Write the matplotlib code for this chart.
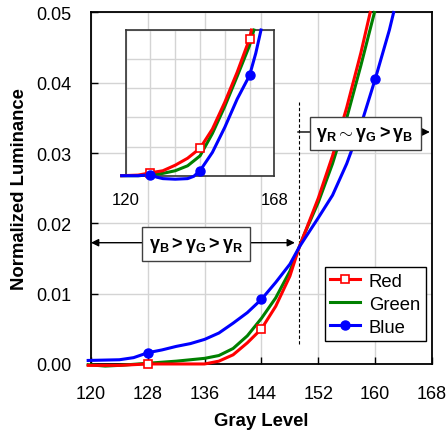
import matplotlib
matplotlib.use("Agg")
import matplotlib.pyplot as plt
from matplotlib.lines import Line2D

plt.rcParams['font.family'] = ['Liberation Sans', 'DejaVu Sans']
plt.rcParams['mathtext.fontset'] = 'custom'
plt.rcParams['mathtext.rm'] = 'Liberation Sans'
plt.rcParams['mathtext.bf'] = 'Liberation Sans:bold'
plt.rcParams['mathtext.it'] = 'Liberation Sans:italic'

# ---- main chart data (gray level vs normalized luminance) ----
red_x = [119.6, 124, 128, 132, 136, 138, 140, 142, 144, 146, 148, 149.3, 150, 152, 154, 156, 158, 159.3]
red_y = [-0.0002, -0.0002, 0.0000, 0.0000, 0.0000, 0.0004, 0.0013, 0.0030, 0.0050, 0.0082, 0.0125, 0.0166,
         0.0184, 0.0236, 0.0296, 0.0365, 0.0443, 0.0500]
green_x = [119.6, 122, 124, 128, 132, 136, 138, 140, 142, 144, 146, 148, 149.3, 150, 152, 154, 156, 158, 159.9]
green_y = [-0.0001, -0.0003, -0.0002, 0.0001, 0.0004, 0.0008, 0.0012, 0.0022, 0.0040, 0.0065, 0.0094, 0.0132,
           0.0166, 0.0184, 0.0230, 0.0285, 0.0350, 0.0425, 0.0500]
blue_x = [119.6, 124, 126, 128, 130, 132, 134, 136, 138, 140, 142, 144, 146, 148, 149.3, 150, 152, 154, 156,
          158, 160, 162, 162.6]
blue_y = [0.0005, 0.0006, 0.0009, 0.0016, 0.0020, 0.0025, 0.0029, 0.0035, 0.0044, 0.0058, 0.0073, 0.0092,
          0.0116, 0.0142, 0.0166, 0.0177, 0.0208, 0.0240, 0.0285, 0.0340, 0.0405, 0.0475, 0.0500]
red_mx = [128, 144]
red_my = [0.0000, 0.0050]
blue_mx = [128, 144, 160]
blue_my = [0.0016, 0.0092, 0.0405]

# ---- inset data (same gray range, expanded luminance scale, arbitrary units) ----
ired_x = [118.7, 124, 128, 132, 136, 140, 144, 148, 152, 156, 160, 160.6]
ired_y = [0.0, 0.02, 0.10, 0.17, 0.36, 0.60, 0.94, 1.60, 2.52, 3.55, 4.70, 5.0]
igreen_x = [118.7, 124, 128, 132, 136, 140, 144, 148, 152, 156, 160, 161.4]
igreen_y = [0.0, 0.0, 0.03, 0.08, 0.17, 0.34, 0.68, 1.45, 2.38, 3.41, 4.47, 5.0]
iblue_x = [118.7, 124, 128, 130, 132, 136, 140, 142, 144, 148, 152, 156, 160, 162, 163.7]
iblue_y = [0.0, 0.0, 0.03, -0.05, -0.10, -0.12, -0.10, -0.02, 0.17, 0.80, 1.66, 2.63, 3.44, 4.20, 5.0]
ired_mx = [128, 144, 160]
ired_my = [0.10, 0.94, 4.70]
iblue_mx = [128, 144, 160]
iblue_my = [0.03, 0.17, 3.44]

xticks = [120, 128, 136, 144, 152, 160, 168]
yticks = [0.00, 0.01, 0.02, 0.03, 0.04, 0.05]
ytick_labels = ['0.00', '0.01', '0.02', '0.03', '0.04', '0.05']

RED, GREEN, BLUE = '#FF0000', '#008000', '#0000FF'

fig = plt.figure(figsize=(4.47, 4.35), dpi=100)
ax = fig.add_axes([0.2036, 0.161, 0.7628, 0.808])
ax.set_xlim(120, 168)
ax.set_ylim(0, 0.05)
ax.set_xticks(xticks)
ax.set_yticks(yticks)
ax.set_yticklabels(ytick_labels)
ax.grid(True, color='#d4d4d4', lw=1.0)
ax.set_axisbelow(True)
ax.tick_params(direction='in', length=5, width=1, labelsize=13, pad=14)
ax.tick_params(axis='x', pad=15)
for s in ax.spines.values():
    s.set_linewidth(1.3)
    s.set_color('black')

lw = 2.2
ax.plot(green_x, green_y, color=GREEN, lw=lw, clip_on=False, zorder=4)
ax.plot(red_x, red_y, color=RED, lw=lw, clip_on=False, zorder=5)
ax.plot(blue_x, blue_y, color=BLUE, lw=lw, clip_on=False, zorder=6)
ax.plot(red_mx, red_my, ls='none', marker='s', ms=5.5, mfc='white', mec=RED, mew=1.2, zorder=7, clip_on=False)
ax.plot(blue_mx, blue_my, ls='none', marker='o', ms=6.5, mfc=BLUE, mec=BLUE, zorder=7)

ax.set_xlabel('Gray Level', fontsize=13.3, fontweight='bold', labelpad=7)
ax.set_ylabel('Normalized Luminance', fontsize=13.3, fontweight='bold', labelpad=6)

# dashed divider
ax.plot([149.3, 149.3], [0.0028, 0.0373], color='black', lw=0.8, ls=(0, (3, 2)), zorder=3)

# annotation 1
y1 = 0.01725
ax.annotate('', xy=(120, y1), xytext=(134.8, y1),
            arrowprops=dict(arrowstyle='-|>', color='black', lw=1.0, shrinkA=0, shrinkB=0, mutation_scale=11),
            zorder=8)
ax.annotate('', xy=(148.7, y1), xytext=(134.8, y1),
            arrowprops=dict(arrowstyle='-|>', color='black', lw=1.0, shrinkA=0, shrinkB=0, mutation_scale=11),
            zorder=8)
ax.text(134.8, 0.0171, r'$\mathbf{γ_B > γ_G > γ_R}$', fontsize=13, ha='center', va='center', zorder=10,
        bbox=dict(boxstyle='square,pad=0.38', fc='white', ec='#404040', lw=1.0))

# annotation 2
y2 = 0.0330
ax.annotate('', xy=(167.7, y2), xytext=(149.1, y2),
            arrowprops=dict(arrowstyle='-|>', color='black', lw=1.0, shrinkA=0, shrinkB=0, mutation_scale=11),
            zorder=8)
ax.text(158.6, 0.0328, r'$\mathbf{γ_R \sim γ_G > γ_B}$', fontsize=13, ha='center', va='center', zorder=10,
        bbox=dict(boxstyle='square,pad=0.38', fc='white', ec='#404040', lw=1.0))

# legend
handles = [
    Line2D([], [], color=RED, lw=lw, marker='s', ms=5.5, mfc='white', mec=RED, mew=1.2),
    Line2D([], [], color=GREEN, lw=lw),
    Line2D([], [], color=BLUE, lw=lw, marker='o', ms=6.5, mfc=BLUE, mec=BLUE),
]
leg = ax.legend(handles, ['Red', 'Green', 'Blue'], loc='lower right', bbox_to_anchor=(0.9815, 0.0645),
                borderaxespad=0, fancybox=False, fontsize=13.3, handlelength=1.6, handletextpad=0.5,
                labelspacing=0.32, borderpad=0.3, framealpha=1)
leg.get_frame().set_edgecolor('black')
leg.get_frame().set_linewidth(1.0)
leg.set_zorder(10)

# inset
ax2 = fig.add_axes([0.2812, 0.5938, 0.3325, 0.3349])
ax2.set_xlim(120, 168)
ax2.set_ylim(0, 5)
ax2.set_xticks(xticks)
ax2.set_xticklabels(['120', '', '', '', '', '', '168'])
ax2.set_yticks([0, 1, 2, 3, 4, 5])
ax2.set_yticklabels([])
ax2.grid(True, color='#d4d4d4', lw=1.0)
ax2.set_axisbelow(True)
ax2.tick_params(length=0, labelsize=12, pad=12)
for s in ax2.spines.values():
    s.set_linewidth(1.2)
    s.set_color('#333333')
ax2.plot(igreen_x, igreen_y, color=GREEN, lw=lw, clip_on=False, zorder=4)
ax2.plot(ired_x, ired_y, color=RED, lw=lw, clip_on=False, zorder=5)
ax2.plot(iblue_x, iblue_y, color=BLUE, lw=lw, clip_on=False, zorder=6)
ax2.plot(ired_mx, ired_my, ls='none', marker='s', ms=5.5, mfc='white', mec=RED, mew=1.2, zorder=7, clip_on=False)
ax2.plot(iblue_mx, iblue_my, ls='none', marker='o', ms=6.5, mfc=BLUE, mec=BLUE, zorder=7, clip_on=False)

fig.savefig('out.png', dpi=100)
